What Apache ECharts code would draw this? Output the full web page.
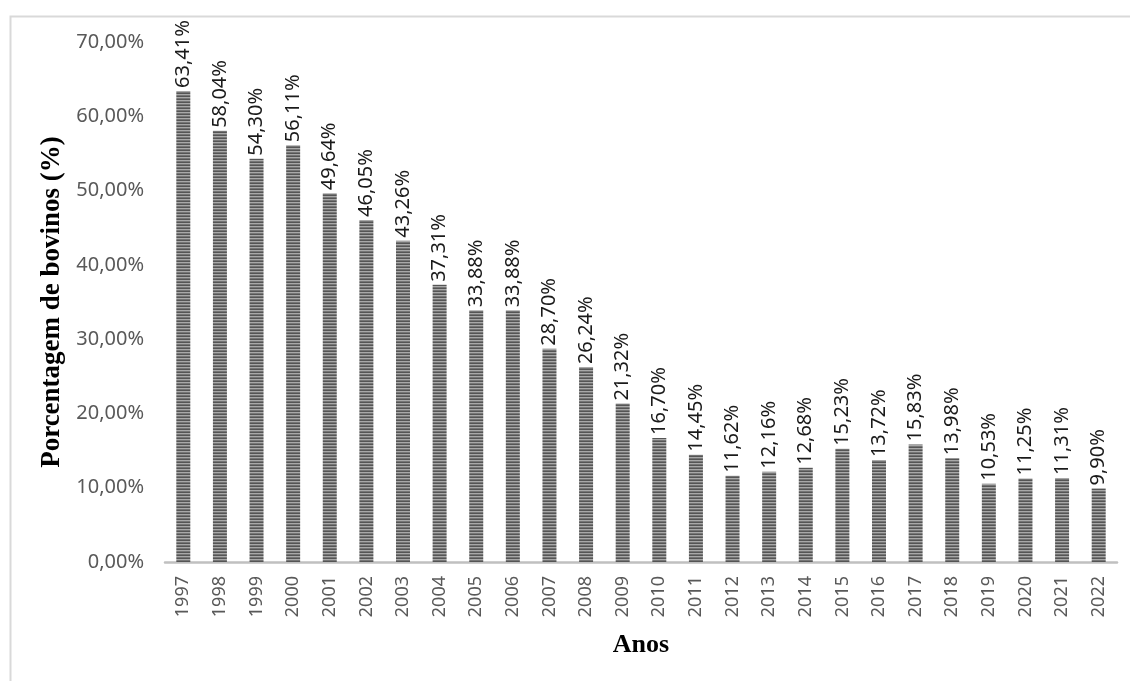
<!DOCTYPE html>
<html>
<head>
<meta charset="utf-8">
<script src="https://cdn.jsdelivr.net/npm/echarts@6/dist/echarts.min.js"></script>
<style>
  html, body { margin: 0; padding: 0; background: #fff; }
  #chart { width: 1130px; height: 681px; }
</style>
</head>
<body>
<div id="chart"></div>
<script>
var anos = ['1997', '1998', '1999', '2000', '2001', '2002', '2003', '2004', '2005', '2006', '2007', '2008', '2009',
    '2010', '2011', '2012', '2013', '2014', '2015', '2016', '2017', '2018', '2019', '2020', '2021', '2022'];
var porcentagem = [63.41, 58.04, 54.30, 56.11, 49.64, 46.05, 43.26, 37.31, 33.88, 33.88, 28.70, 26.24, 21.32,
    16.70, 14.45, 11.62, 12.16, 12.68, 15.23, 13.72, 15.83, 13.98, 10.53, 11.25, 11.31, 9.90];

function pct(v) {
    return v.toFixed(2).replace('.', ',') + '%';
}

// textura listrada das barras
var pat = document.createElement('canvas');
pat.width = 4;
pat.height = 3;
var ctx = pat.getContext('2d');
ctx.fillStyle = '#555555';
ctx.fillRect(0, 0, 4, 1);
ctx.fillStyle = '#a8a8a8';
ctx.fillRect(0, 1, 4, 1);
ctx.fillStyle = '#757575';
ctx.fillRect(0, 2, 4, 1);

var chart = echarts.init(document.getElementById('chart'));
var option = {
    animation: false,
    textStyle: { fontFamily: 'Noto Sans' },
    graphic: [{
        type: 'rect',
        left: 8,
        top: 14,
        shape: { width: 1200, height: 800 },
        style: { fill: 'none', stroke: '#d9d9d9', lineWidth: 2 },
        silent: true
    }],
    grid: {
        left: 165,
        right: 13,
        top: 42,
        bottom: 119
    },
    xAxis: {
        type: 'category',
        data: anos,
        name: 'Anos',
        nameLocation: 'middle',
        nameGap: 70,
        nameTextStyle: { fontFamily: 'Liberation Serif', fontWeight: 'bold', fontSize: 26, color: '#000' },
        axisLine: { lineStyle: { color: '#c0c0c0', width: 2.5 } },
        axisTick: { show: false },
        axisLabel: { rotate: 90, interval: 0, margin: 14, fontSize: 18, color: '#595959' }
    },
    yAxis: {
        type: 'value',
        min: 0,
        max: 70,
        interval: 10,
        name: 'Porcentagem de bovinos (%)',
        nameLocation: 'middle',
        nameGap: 98,
        nameTextStyle: { fontFamily: 'Liberation Serif', fontWeight: 'bold', fontSize: 27, color: '#000' },
        axisLine: { show: false },
        axisTick: { show: false },
        splitLine: { show: false },
        axisLabel: { margin: 21, fontSize: 20, color: '#595959', formatter: pct }
    },
    series: [{
        type: 'bar',
        data: porcentagem,
        barWidth: 14,
        itemStyle: { color: { image: pat, repeat: 'repeat' } },
        label: {
            show: true,
            position: 'top',
            rotate: 90,
            align: 'left',
            verticalAlign: 'middle',
            distance: 3,
            fontSize: 20,
            color: '#1a1a1a',
            formatter: function (p) { return pct(p.value); }
        }
    }]
};
chart.setOption(option);
</script>
</body>
</html>
